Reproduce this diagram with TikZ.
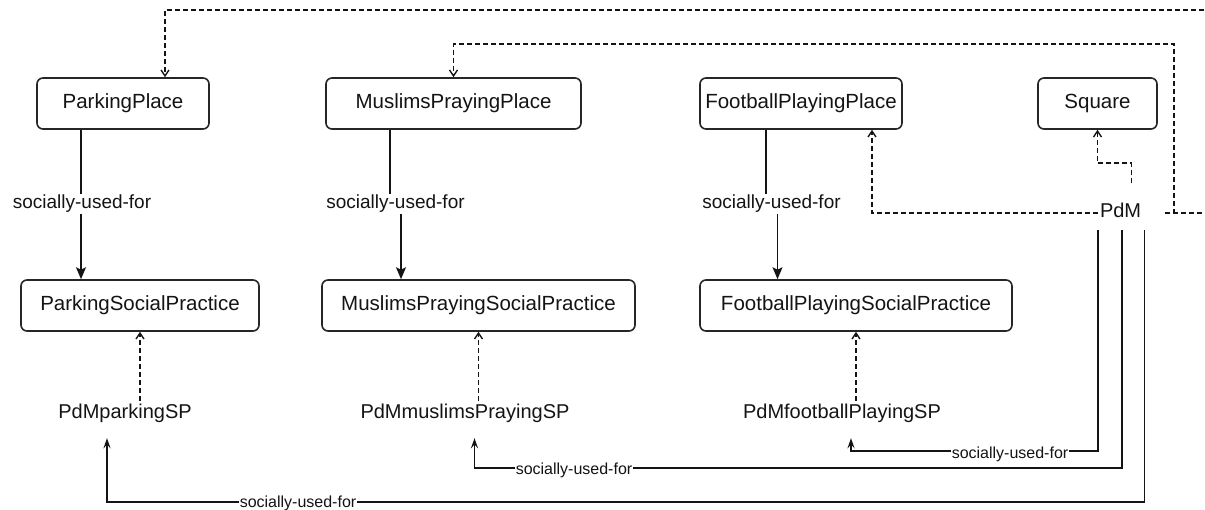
\documentclass[tikz,border=0pt]{standalone}
\usepackage{fontspec}
\setmainfont{Liberation Sans}
\usetikzlibrary{arrows.meta}
\definecolor{ink}{HTML}{141414}
\definecolor{boxline}{HTML}{262626}
\begin{document}
\begin{tikzpicture}[x=1pt,y=-1pt,
  box/.style={draw=boxline, line width=1.6pt, rounded corners=6pt, fill=white,
    inner sep=0pt, minimum height=51pt, font=\fontsize{20.5}{24}\selectfont, text=ink},
  inst/.style={inner sep=0pt, minimum height=24pt, font=\fontsize{20}{24}\selectfont, text=ink},
  rel/.style={draw=ink, line width=1.5pt, -{Stealth[length=12pt,width=10pt,inset=2.5pt]}},
  use/.style={draw=ink, line width=1.5pt, -{Stealth[length=10pt,width=7pt,inset=3.5pt]}},
  dep/.style={draw=ink, line width=1.4pt, dash pattern=on 5pt off 3pt,
    -{Straight Barb[length=6pt,width=8pt]}},
  rellbl/.style={fill=white, inner sep=1pt, font=\fontsize{19}{22}\selectfont, text=ink},
  uselbl/.style={fill=white, inner sep=0.5pt, font=\fontsize{16}{18}\selectfont, text=ink},
]
\useasboundingbox (0,0) rectangle (1205,509);
\clip (0,0) rectangle (1205,509);

% places
\node[box, minimum width=172pt] (pp)  at (123,103.5)   {ParkingPlace};
\node[box, minimum width=255pt] (mpp) at (453.5,103.5) {MuslimsPrayingPlace};
\node[box, minimum width=202pt] (fpp) at (801,103.5)   {FootballPlayingPlace};
\node[box, minimum width=119pt] (sq)  at (1097.5,103.5) {Square};

% social practices
\node[box, minimum width=238pt] (psp) at (140,305.5)   {ParkingSocialPractice};
\node[box, minimum width=313pt] (msp) at (478.5,305.5) {MuslimsPrayingSocialPractice};
\node[box, minimum width=312pt] (fsp) at (856,305.5)   {FootballPlayingSocialPractice};

% individuals
\node[inst] (pdmp) at (125,413) {PdMparkingSP};
\node[inst] (pdmm) at (465,413) {PdMmuslimsPrayingSP};
\node[inst] (pdmf) at (842,413) {PdMfootballPlayingSP};
\node[inst, minimum width=67pt, minimum height=40pt] (pdm) at (1131.5,210)
  {\makebox[67pt][l]{\hspace{2pt}PdM}};

% routing rows and columns
\coordinate (lblrow) at (0,204);
\coordinate (rowsq)  at (0,163);
\coordinate (rowt1)  at (0,10);
\coordinate (rowt2)  at (0,44);
\coordinate (rowf)   at (0,451);
\coordinate (rowm)   at (0,468);
\coordinate (rowp)   at (0,502);
\coordinate (colA)   at (1174,0);
\coordinate (colB)   at (1215,0);

% place -> social practice
\coordinate (ppo) at ([xshift=-42pt]pp.south);
\draw[rel] (ppo) -- (ppo |- psp.north);
\coordinate (mpo) at ([xshift=-63.5pt]mpp.south);
\coordinate (mpi) at ([xshift=-77.5pt]msp.north);
\draw[rel] (mpo) -- (mpo |- lblrow) -- (mpi |- lblrow) -- (mpi);
\coordinate (fpo) at ([xshift=-35pt]fpp.south);
\coordinate (fpi) at ([xshift=-78.5pt]fsp.north);
\draw[rel] (fpo) -- (fpo |- lblrow) -- (fpi |- lblrow) -- (fpi);

% instance-of links
\draw[dep] ([xshift=15pt]pdmp.north) -- (psp.south);
\draw[dep] (pdmm.north -| msp.south) -- (msp.south);
\draw[dep] (pdmf.north -| fsp.south) -- (fsp.south);
\draw[dep, shorten <=7pt] (pdm.north) -- (pdm.north |- rowsq) -| (sq.south);
\draw[dep] ([yshift=-3pt]pdm.west) -| ([xshift=71pt]fpp.south);
\draw[dep] ([yshift=-3pt]pdm.east) -| (colA |- rowt2) -| (mpp.north);
\draw[dep] ([yshift=-3pt]pdm.east) -| (colB |- rowt1) -| ([xshift=42pt]pp.north);

% PdM socially-used-for links
\coordinate (uf) at ([xshift=-33.5pt]pdm.south);
\coordinate (um) at ([xshift=-9.5pt]pdm.south);
\coordinate (up) at ([xshift=13pt]pdm.south);
\coordinate (tf) at ([xshift=9pt]pdmf.south);
\coordinate (tm) at ([xshift=9.5pt]pdmm.south);
\coordinate (tp) at ([xshift=-18pt]pdmp.south);
\draw[use, shorten >=13pt] (uf) |- (tf |- rowf) -- (tf);
\draw[use, shorten >=13pt] (um) |- (tm |- rowm) -- (tm);
\draw[use, shorten >=13pt] (up) |- (tp |- rowp) -- (tp);

% edge labels
\node[rellbl] (l1) at (82,204)    {socially-used-for};
\node[rellbl] (l2) at (395.5,204) {socially-used-for};
\node[rellbl] (l3) at (771.5,204) {socially-used-for};
\node[uselbl] (l4) at (1010,454)  {socially-used-for};
\node[uselbl] (l5) at (574,470)   {socially-used-for};
\node[uselbl] (l6) at (298,503)   {socially-used-for};
\end{tikzpicture}
\end{document}
